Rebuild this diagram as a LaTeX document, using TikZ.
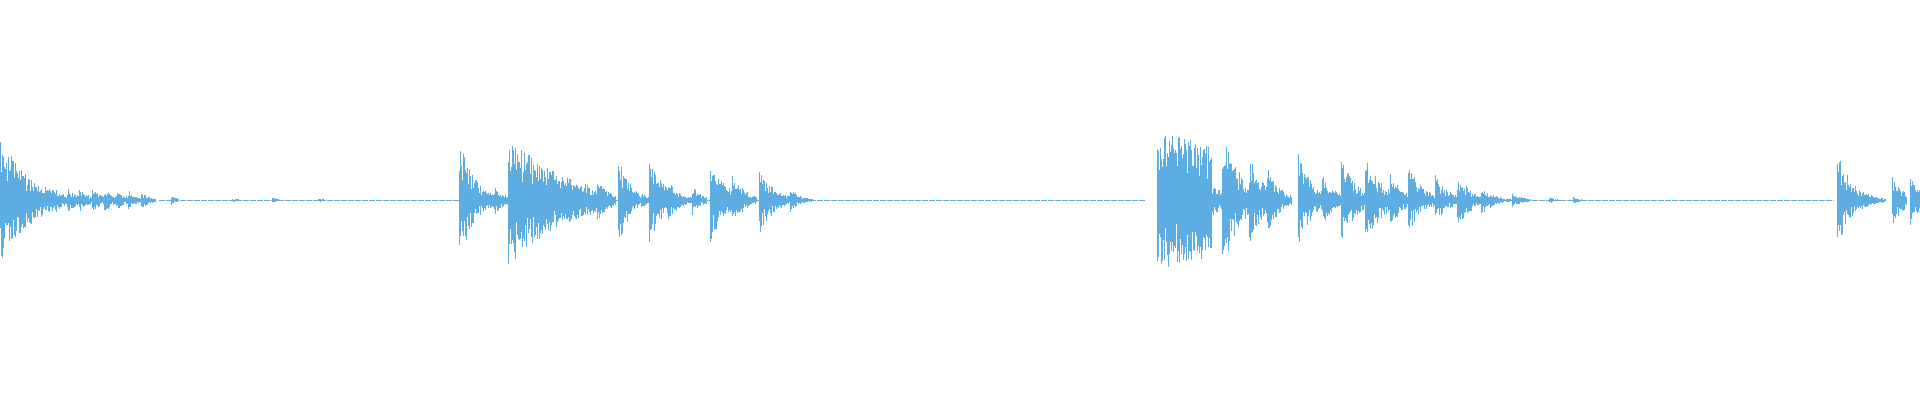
\documentclass[tikz,border=0pt]{standalone}
\definecolor{wavecol}{RGB}{93,173,226}
\tikzset{wave/.style={wavecol, line width=0.45pt}}
\begin{document}
\begin{tikzpicture}[x=1.2245pt,y=1.2245pt]
        \useasboundingbox (0,0) rectangle (1568,326.6);
        \pgfmathsetseed{7}
        % quiet floor
        \draw[wave, line width=0.35pt, dash pattern=on 6pt off 1pt] (130,163) -- (935,163);
        \draw[wave, line width=0.35pt, dash pattern=on 6pt off 1pt] (1240,163) -- (1498,163);
        % bursts: onset / amplitude / decay / length
        \foreach \xo/\amp/\tau/\len in {
            0/52/25/45, 45/12/8/12, 55/11/8/12, 65/10/8/12, 75/11/8/12,
            85/10/8/12, 95/9/8/12, 105/8/8/12, 115/7/8/12,
            140/4/5/6, 190/2/5/6, 222/3/5/6, 260/2/5/6,
            375/52/12/35, 396/10/8/14, 404/12/8/14,
            415/55/45/80, 440/32/15/30, 465/20/10/20, 488/18/10/15,
            505/36/10/25, 530/36/12/30, 545/18/10/20, 565/12/8/12,
            580/38/12/30, 598/22/10/20, 620/28/12/40, 645/10/8/20,
            945/58/200/45, 970/50/15/30, 998/62/14/30, 1020/38/12/25,
            1035/28/10/20, 1060/38/12/30, 1080/22/10/15,
            1095/38/12/20, 1115/38/14/30, 1135/25/10/15,
            1150/28/12/30, 1172/22/10/20, 1190/22/12/30, 1210/12/10/30,
            1235/6/8/15, 1265/3/5/10, 1285/3/5/10,
            1500/42/12/40, 1520/8/8/15, 1545/22/10/12, 1560/20/10/8}{
            \foreach \x in {0,0.6,...,\len}{
                \pgfmathsetmacro\a{\amp*exp(-\x/\tau)}
                \pgfmathsetmacro\u{max(0.6,\a*(0.35+0.65*rnd))}
                \pgfmathsetmacro\d{max(0.6,\a*(0.35+0.65*rnd))}
                \draw[wave] (\xo+\x,163+\u) -- (\xo+\x,163-\d);
            }
        }
    \end{tikzpicture}
\end{document}
